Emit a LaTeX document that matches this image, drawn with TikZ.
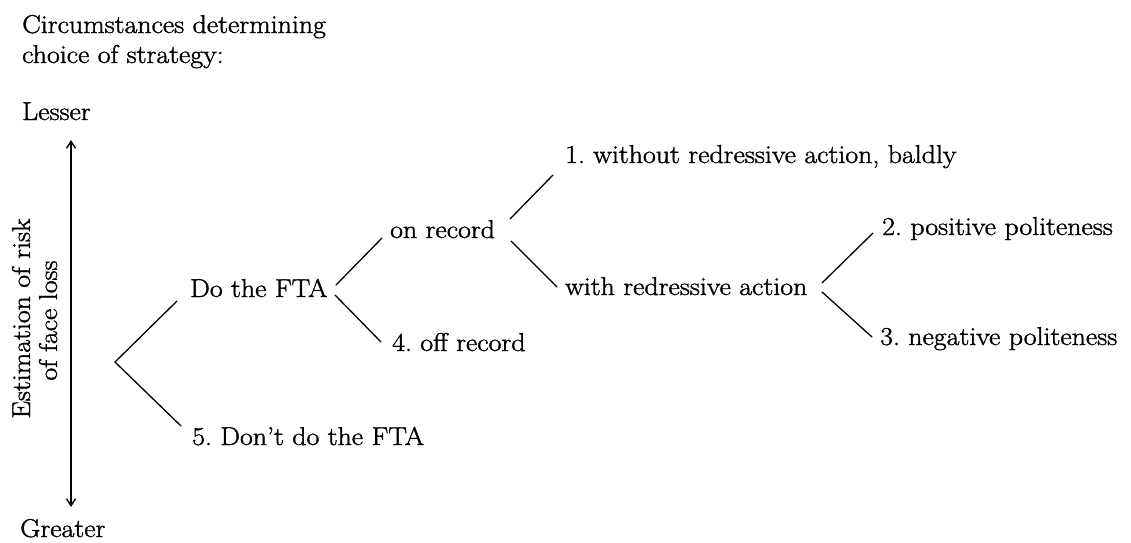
\documentclass[tikz,border=0pt]{standalone}
\usepackage{fontspec}
\setmainfont{Latin Modern Roman}[FakeStretch=1.08,FakeBold=1.4]
\usetikzlibrary{calc,arrows.meta}
\frenchspacing
\begin{document}
\begin{tikzpicture}[x=1pt,y=-1pt,
  lbl/.style={inner sep=0pt,anchor=base west,font=\fontsize{25.8}{30}\selectfont},
  side/.style={inner sep=0pt,anchor=base,rotate=90,font=\fontsize{25.8}{30}\selectfont},
  branch/.style={line width=1.3pt,line cap=round},
  axis/.style={line width=1.4pt,{Straight Barb[length=7pt,width=9pt]}-{Straight Barb[length=7pt,width=9pt]}}]
\useasboundingbox (0,0) rectangle (1131,542);
% header
\node[lbl] (h1) at (22,33) {Circumstances determining};
\node[lbl] (h2) at (22,63) {choice of strategy:};
\node[lbl] (lesser) at (22,120) {Lesser};
\node[lbl] (greater) at (20,537) {Greater};
% axis
\coordinate (atop) at (71,140);
\coordinate (abot) at (71,507);
\draw[axis] (atop) -- (abot);
\node[side] (est1) at (30,318.5) {Estimation of risk};
\node[side] (est2) at (57,320.5) {of face loss};
% tree
\coordinate (root) at (115,362);
\node[lbl] (do) at (190,297) {Do the FTA};
\node[lbl] (dont) at (192,445) {5. Don't do the FTA};
\node[lbl] (onrec) at (390,238) {on record};
\node[lbl] (off) at (392,351) {4. off record};
\node[lbl] (s1) at (565,163) {1. without redressive action, baldly};
\node[lbl] (with) at (565,295) {with redressive action};
\node[lbl] (s2) at (882,235) {2. positive politeness};
\node[lbl] (s3) at (880,345) {3. negative politeness};
\draw[branch] ($(do.base west)+(-13,4)$) -- (root) -- ($(dont.base west)+(-11,-19)$);
\draw[branch] ($(do.base west)+(146,-12)$) -- ($(onrec.base west)+(-8,0)$);
\draw[branch] ($(do.base west)+(145,-2)$) -- ($(off.base west)+(-11,-9)$);
\draw[branch] ($(onrec.base west)+(120,-19)$) -- ($(s1.base west)+(-12,12)$);
\draw[branch] ($(onrec.base west)+(121,3)$) -- ($(with.base west)+(-8,-8)$);
\draw[branch] ($(with.base west)+(257,-12)$) -- ($(s2.base west)+(-9,-2)$);
\draw[branch] ($(with.base west)+(257,-3)$) -- ($(s3.base west)+(-8,-8)$);
\end{tikzpicture}
\end{document}
